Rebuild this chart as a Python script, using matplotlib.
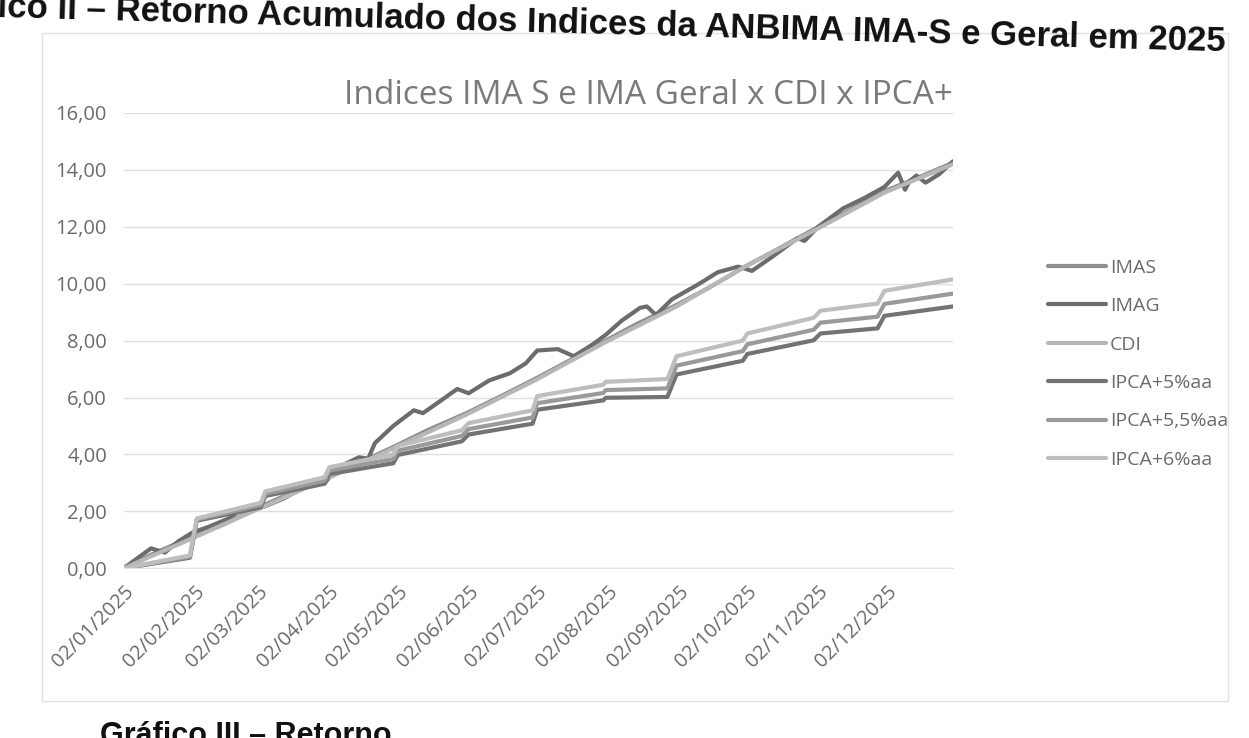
import matplotlib
matplotlib.use('Agg')
import matplotlib.pyplot as plt
import matplotlib.dates as mdates
import matplotlib.ticker as mticker
import matplotlib.patches as mpatches
import pandas as pd

# accumulated return (%)
imag_dates = ['2025-01-02', '2025-01-08', '2025-01-14', '2025-01-20', '2025-01-26', '2025-02-01',
              '2025-02-08', '2025-02-17', '2025-02-23', '2025-03-04', '2025-03-13', '2025-03-22',
              '2025-03-31', '2025-04-06', '2025-04-15', '2025-04-19', '2025-04-22', '2025-04-30',
              '2025-05-09', '2025-05-13', '2025-05-21', '2025-05-28', '2025-06-02', '2025-06-11',
              '2025-06-20', '2025-06-27', '2025-07-02', '2025-07-11', '2025-07-18', '2025-07-26',
              '2025-08-01', '2025-08-08', '2025-08-16', '2025-08-19', '2025-08-23', '2025-08-30',
              '2025-09-11', '2025-09-19', '2025-09-28', '2025-10-04', '2025-10-13', '2025-10-24',
              '2025-10-27', '2025-11-02', '2025-11-13', '2025-11-22', '2025-12-01', '2025-12-07',
              '2025-12-10', '2025-12-12', '2025-12-15', '2025-12-19', '2025-12-25', '2025-12-31']
imag = [0.00, 0.35, 0.70, 0.55, 0.95, 1.25,
        1.45, 1.75, 2.10, 2.15, 2.45, 2.85,
        3.00, 3.55, 3.90, 3.85, 4.40, 5.00,
        5.55, 5.45, 5.90, 6.30, 6.15, 6.60,
        6.85, 7.20, 7.65, 7.70, 7.45, 7.85,
        8.20, 8.70, 9.15, 9.20, 8.90, 9.45,
        10.00, 10.40, 10.60, 10.45, 10.95, 11.60,
        11.50, 12.00, 12.65, 13.00, 13.40, 13.90,
        13.30, 13.60, 13.80, 13.55, 13.85, 14.30]

imas_dates = ['2025-01-02', '2025-01-16', '2025-02-01', '2025-02-15', '2025-03-01', '2025-03-15',
              '2025-04-01', '2025-04-15', '2025-05-01', '2025-05-15', '2025-06-01', '2025-06-15',
              '2025-07-01', '2025-07-15', '2025-08-01', '2025-08-15', '2025-09-01', '2025-09-15',
              '2025-10-01', '2025-10-15', '2025-11-01', '2025-11-15', '2025-12-01', '2025-12-15',
              '2025-12-31']
imas = [0.00, 0.55, 1.10, 1.55, 2.10, 2.60,
        3.20, 3.70, 4.30, 4.85, 5.45, 6.00,
        6.65, 7.25, 8.00, 8.60, 9.25, 9.85,
        10.60, 11.20, 11.95, 12.55, 13.25, 13.70,
        14.25]

cdi_dates = ['2025-01-02', '2025-02-01', '2025-03-01', '2025-04-01', '2025-05-01', '2025-06-01',
             '2025-07-01', '2025-08-01', '2025-09-01', '2025-10-01', '2025-11-01', '2025-12-01',
             '2025-12-31']
cdi = [0.00, 1.05, 2.05, 3.15, 4.25, 5.40, 6.60, 7.95, 9.20, 10.60, 11.90, 13.20, 14.20]

ipca_dates = ['2025-01-02', '2025-01-31', '2025-02-03', '2025-03-03', '2025-03-05', '2025-03-31',
              '2025-04-02', '2025-04-30', '2025-05-02', '2025-05-30', '2025-06-02', '2025-06-30',
              '2025-07-02', '2025-07-31', '2025-08-01', '2025-08-28', '2025-09-01', '2025-09-30',
              '2025-10-02', '2025-10-31', '2025-11-03', '2025-11-28', '2025-12-01', '2025-12-31']
ipca5 = [0.00, 0.37, 1.67, 2.14, 2.54, 2.97, 3.31, 3.69, 3.98, 4.46, 4.70, 5.08,
         5.57, 5.90, 5.99, 6.02, 6.81, 7.29, 7.53, 8.01, 8.25, 8.43, 8.87, 9.20]
ipca55 = [0.00, 0.41, 1.71, 2.22, 2.61, 3.08, 3.43, 3.84, 4.13, 4.65, 4.89, 5.30,
          5.80, 6.16, 6.26, 6.32, 7.12, 7.63, 7.87, 8.38, 8.63, 8.84, 9.29, 9.65]
ipca6 = [0.00, 0.45, 1.75, 2.30, 2.70, 3.20, 3.55, 4.00, 4.30, 4.85, 5.10, 5.55,
         6.05, 6.45, 6.55, 6.65, 7.45, 8.00, 8.25, 8.80, 9.05, 9.30, 9.75, 10.15]

tick_dates = ['2025-01-02', '2025-02-02', '2025-03-02', '2025-04-02', '2025-05-02', '2025-06-02',
              '2025-07-02', '2025-08-02', '2025-09-02', '2025-10-02', '2025-11-02', '2025-12-02']
y_ticks = [0, 2, 4, 6, 8, 10, 12, 14, 16]

header = 'Gráfico II – Retorno Acumulado dos Indices da ANBIMA IMA-S e Geral em 2025'
footer = 'Gráfico III – Retorno'
title = 'Indices IMA S e IMA Geral x CDI x IPCA+'

plt.rcParams['font.family'] = ['Open Sans', 'DejaVu Sans']
txt = '#6b6b6b'

fig = plt.figure(figsize=(12.49, 7.38), dpi=100)
ax = fig.add_axes([0.099, 0.230, 0.664, 0.617])

series = [
    ('IMAS', imas_dates, imas, '#8e8e8e'),
    ('IMAG', imag_dates, imag, '#6c6c6c'),
    ('CDI', cdi_dates, cdi, '#b7b7b7'),
    ('IPCA+5%aa', ipca_dates, ipca5, '#737373'),
    ('IPCA+5,5%aa', ipca_dates, ipca55, '#9a9a9a'),
    ('IPCA+6%aa', ipca_dates, ipca6, '#bebebe'),
]
for name, d, v, c in series:
    ax.plot(pd.to_datetime(d), v, color=c, lw=3, label=name, solid_capstyle='round')

ax.set_xlim(pd.Timestamp('2025-01-02'), pd.Timestamp('2025-12-31'))
ax.set_ylim(0, 16)
ax.set_yticks(y_ticks)
ax.yaxis.set_major_formatter(mticker.FuncFormatter(lambda v, p: f'{v:.2f}'.replace('.', ',')))
ax.set_xticks(pd.to_datetime(tick_dates))
ax.xaxis.set_major_formatter(mdates.DateFormatter('%d/%m/%Y'))
plt.setp(ax.get_xticklabels(), rotation=45, ha='right', rotation_mode='anchor')
ax.tick_params(axis='both', length=0, labelsize=14.5, colors=txt)
ax.tick_params(axis='y', pad=12)
ax.tick_params(axis='x', pad=10)
ax.grid(axis='y', color='#e0e0e0', lw=1)
for s in ax.spines.values():
    s.set_visible(False)
ax.spines['bottom'].set_visible(True)
ax.spines['bottom'].set_color('#e0e0e0')

fig.text(0.519, 0.871, title, ha='center', va='center', fontsize=24, color='#7a7a7a')

ax.legend(loc='center left', bbox_to_anchor=(0.825, 0.507), bbox_transform=fig.transFigure,
          frameon=False, fontsize=14, labelcolor=txt, handlelength=3.0,
          labelspacing=1.05, handletextpad=0.2)

# chart frame and surrounding page text of the scan
fig.patches.append(mpatches.Rectangle((0.034, 0.05), 0.949, 0.905, transform=fig.transFigure,
                                      fill=False, edgecolor='#e2e2e2', lw=1))
fig.text(0.981, 0.944, header, ha='right', va='center', rotation=-1.6, rotation_mode='anchor',
         fontsize=25, fontweight='bold', color='#111111',
         family=['Liberation Sans Narrow', 'Liberation Sans'])
fig.text(0.08, -0.008, footer, ha='left', va='baseline', fontsize=22, fontweight='bold',
         color='#111111', family=['Liberation Sans Narrow', 'Liberation Sans'])

fig.savefig('out.png', dpi=100, facecolor='white')
